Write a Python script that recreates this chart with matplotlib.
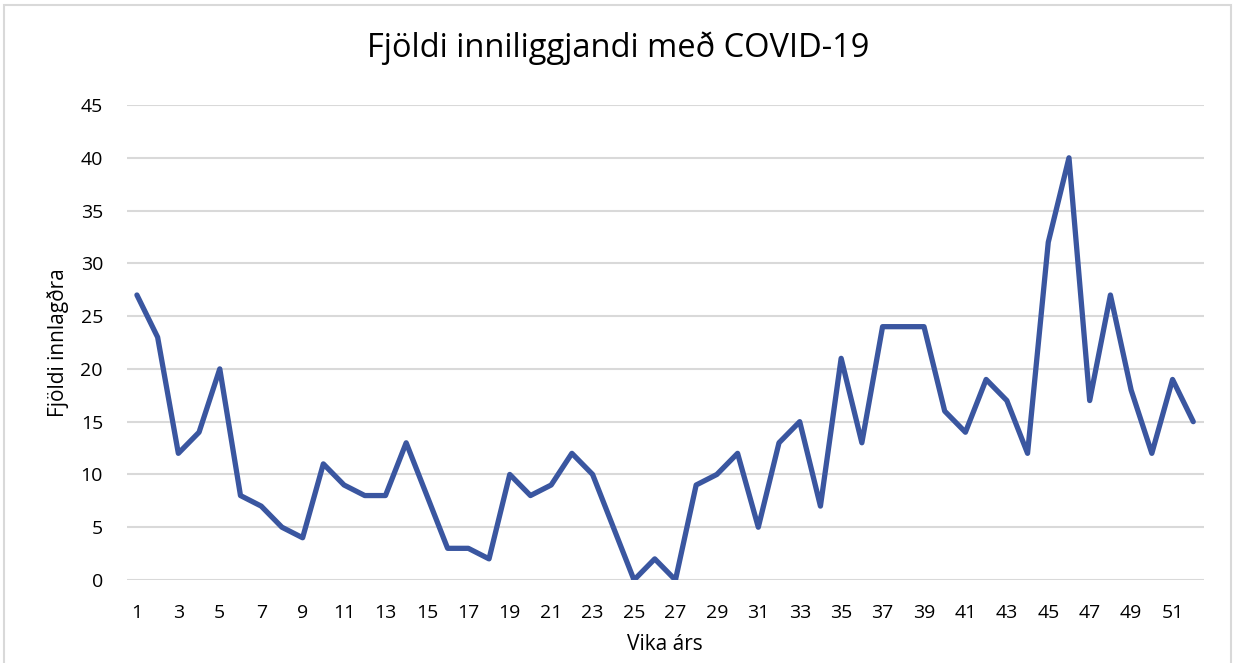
import numpy as np
import matplotlib
matplotlib.use("Agg")
import matplotlib.pyplot as plt
from matplotlib.patches import Rectangle

# Vikur ársins og fjöldi inniliggjandi
weeks = list(range(1, 53))
patients = [27, 23, 12, 14, 20, 8, 7, 5, 4, 11,
            9, 8, 8, 13, 8, 3, 3, 2, 10, 8,
            9, 12, 10, 5, 0, 2, 0, 9, 10, 12,
            5, 13, 15, 7, 21, 13, 24, 24, 24, 16,
            14, 19, 17, 12, 32, 40, 17, 27, 18, 12,
            19, 15]
y_ticks = [0, 5, 10, 15, 20, 25, 30, 35, 40, 45]
x_tick_labels = [str(w) for w in weeks[::2]]

plt.rcParams['font.family'] = ['Open Sans', 'DejaVu Sans']

fig = plt.figure(figsize=(12.36, 6.63), dpi=100)
ax = fig.add_axes([0.1024, 0.1252, 0.8714, 0.7164])

# ytri rammi utan um myndina
fig.patches.append(Rectangle((0.003, -0.01), 0.993, 1.002, transform=fig.transFigure,
                             fill=False, edgecolor='#d9d9d9', linewidth=1.5))

ax.plot(weeks, patients, color='#3a56a0', linewidth=3.8,
        solid_joinstyle='round', solid_capstyle='round')

ax.set_xlim(0.5, 52.5)
ax.set_ylim(0, 45)
ax.set_yticks(y_ticks)
ax.set_xticks(weeks[::2])
ax.set_xticklabels(x_tick_labels)
ax.tick_params(length=0, labelsize=14, colors='#000000')
ax.tick_params(axis='y', pad=17)
ax.tick_params(axis='x', pad=17)
ax.grid(axis='y', color='#d9d9d9', linewidth=1.5)
ax.set_axisbelow(True)
for s in ax.spines.values():
    s.set_visible(False)

ax.set_xlabel("Vika árs", fontsize=15, labelpad=9)
ax.set_ylabel("Fjöldi innlagðra", fontsize=15, labelpad=8)
fig.text(0.5, 0.927, "Fjöldi inniliggjandi með COVID-19", ha='center', va='center', fontsize=23.5)

fig.savefig("out.png", dpi=100)
